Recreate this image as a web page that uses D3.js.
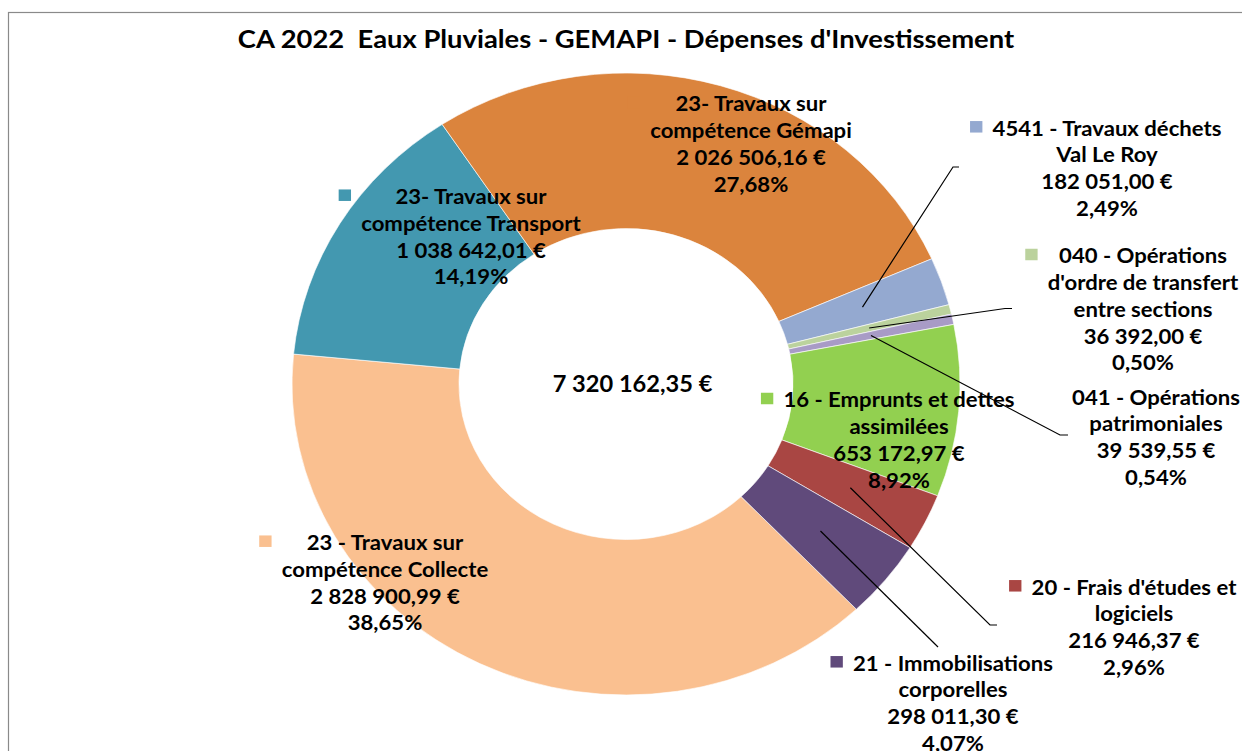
<!DOCTYPE html>
<html>
<head>
<meta charset="utf-8">
<script src="https://cdn.jsdelivr.net/npm/d3@7/dist/d3.min.js"></script>
<style>
  html, body { margin: 0; padding: 0; background: #fff; overflow: hidden; }
</style>
</head>
<body>
<div id="chart"></div>
<script>
// Data, in the order Excel draws the slices (clockwise)
const categories = [
    "23 - Travaux sur compétence Collecte",
    "23- Travaux sur compétence Transport",
    "23- Travaux sur compétence Gémapi",
    "4541 - Travaux déchets Val Le Roy",
    "040 - Opérations d'ordre de transfert entre sections",
    "041 - Opérations patrimoniales",
    "16 - Emprunts et dettes assimilées",
    "20 - Frais d'études et logiciels",
    "21 - Immobilisations corporelles"
];
const nameLines = [
    ["23 - Travaux sur", "compétence Collecte"],
    ["23- Travaux sur", "compétence Transport"],
    ["23- Travaux sur", "compétence Gémapi"],
    ["4541 - Travaux déchets", "Val Le Roy"],
    ["040 - Opérations", "d'ordre de transfert", "entre sections"],
    ["041 - Opérations", "patrimoniales"],
    ["16 - Emprunts et dettes", "assimilées"],
    ["20 - Frais d'études et", "logiciels"],
    ["21 - Immobilisations", "corporelles"]
];
const amounts = [2828900.99, 1038642.01, 2026506.16, 182051.00, 36392.00, 39539.55, 653172.97, 216946.37, 298011.30];
const colors = ["#FAC090", "#4398B0", "#DB843D", "#94A9D0", "#BBD29D", "#A89BC6", "#92D050", "#A94643", "#604A7B"];
const chartTitle = "CA 2022  Eaux Pluviales - GEMAPI - Dépenses d'Investissement";

// Label placement, in screen pixels (first line centre, leader end, tail end)
const labelLayout = [
    { x: 385,  y: 542.7, key: true },
    { x: 471,  y: 196.7, key: true },
    { x: 751,  y: 104,   key: true },
    { x: 1107, y: 128.3, key: true, leader: [953, 167], tail: 959 },
    { x: 1143, y: 256,   key: true, leader: [1005, 308.5], tail: 1012 },
    { x: 1156, y: 397.3, key: false, leader: [1060, 435], tail: 1068 },
    { x: 899,  y: 400,   key: true },
    { x: 1134, y: 587.3, key: true, leader: [990, 625], tail: 997 },
    { x: 953,  y: 663.3, key: true, leader: [938, 647] }
];

const W = 1242, H = 751;
// the picture is stretched horizontally; draw in an unstretched space and scale x
const sx = 334 / 311;
const fontFamily = "Lato, 'Open Sans', sans-serif";
const labelSize = 20.6, lineH = 26.7;

const locale = d3.formatLocale({ decimal: ",", thousands: "\u00a0", grouping: [3], currency: ["", "\u00a0€"] });
const fmtMoney = locale.format("$,.2f");
const fmtPct = v => locale.format(".2f")(v * 100) + "%";

const svg = d3.select("#chart").append("svg")
    .attr("width", W)
    .attr("height", H)
    .style("display", "block");

svg.append("rect")
    .attr("width", W).attr("height", H)
    .attr("fill", "#fff");

// chart frame (only top and left edges are in the crop)
svg.append("rect")
    .attr("x", 8.5).attr("y", 12.5)
    .attr("width", W + 20).attr("height", H + 20)
    .attr("fill", "none")
    .attr("stroke", "#8a8a8a")
    .attr("stroke-width", 1.2);

const g = svg.append("g").attr("transform", `scale(${sx},1)`);

const cx = 626 / sx, cy = 384;
const outerR = 311, innerR = 155.5;
const start = 136.4 * Math.PI / 180;

const total = d3.sum(amounts);
const pie = d3.pie().sort(null).startAngle(start).endAngle(start + 2 * Math.PI);
const arcs = pie(amounts);
const arc = d3.arc().innerRadius(innerR).outerRadius(outerR);

const donut = g.append("g").attr("transform", `translate(${cx},${cy})`);
donut.selectAll("path.slice")
    .data(arcs)
    .enter().append("path")
    .attr("class", "slice")
    .attr("d", arc)
    .attr("fill", (d, i) => colors[i])
    .attr("stroke", "#fff")
    .attr("stroke-width", 0.6);

// Centre total
g.append("text")
    .attr("x", 632.5 / sx)
    .attr("y", cy + 8)
    .attr("text-anchor", "middle")
    .attr("font-family", fontFamily)
    .attr("font-weight", "700")
    .attr("font-size", "22px")
    .attr("fill", "#000")
    .text(fmtMoney(total));

// Title
g.append("text")
    .attr("x", 626 / sx)
    .attr("y", 48)
    .attr("text-anchor", "middle")
    .attr("font-family", fontFamily)
    .attr("font-weight", "700")
    .attr("font-size", "25.5px")
    .attr("fill", "#000")
    .style("white-space", "pre")
    .text(chartTitle);

// Leader lines: from the ring centroid to the label
arcs.forEach((d, i) => {
    const lay = labelLayout[i];
    if (!lay.leader) return;
    const c = arc.centroid(d);
    const pts = [[cx + c[0], cy + c[1]], [lay.leader[0] / sx, lay.leader[1]]];
    if (lay.tail) pts.push([lay.tail / sx, lay.leader[1]]);
    g.append("path")
        .attr("d", d3.line()(pts))
        .attr("fill", "none")
        .attr("stroke", "#000")
        .attr("stroke-width", 1.2)
        .attr("vector-effect", "non-scaling-stroke");
});

// Data labels
arcs.forEach((d, i) => {
    const lay = labelLayout[i];
    const lines = nameLines[i].concat([fmtMoney(amounts[i]), fmtPct(amounts[i] / total)]);
    const lg = g.append("g").attr("class", "label");
    const x = lay.x / sx;
    let maxW = 0;
    lines.forEach((t, k) => {
        const txt = lg.append("text")
            .attr("x", x)
            .attr("y", lay.y + k * lineH + labelSize * 0.36)
            .attr("text-anchor", "middle")
            .attr("font-family", fontFamily)
            .attr("font-weight", "700")
            .attr("font-size", labelSize + "px")
            .attr("fill", "#000")
            .text(t);
        maxW = Math.max(maxW, txt.node().getComputedTextLength());
    });
    if (lay.key) {
        const size = 11.5;
        lg.append("rect")
            .attr("x", x - maxW / 2 - 9.5 - size)
            .attr("y", lay.y - 1.5 - size / 2)
            .attr("width", size)
            .attr("height", size)
            .attr("fill", colors[i]);
    }
});
</script>
</body>
</html>
